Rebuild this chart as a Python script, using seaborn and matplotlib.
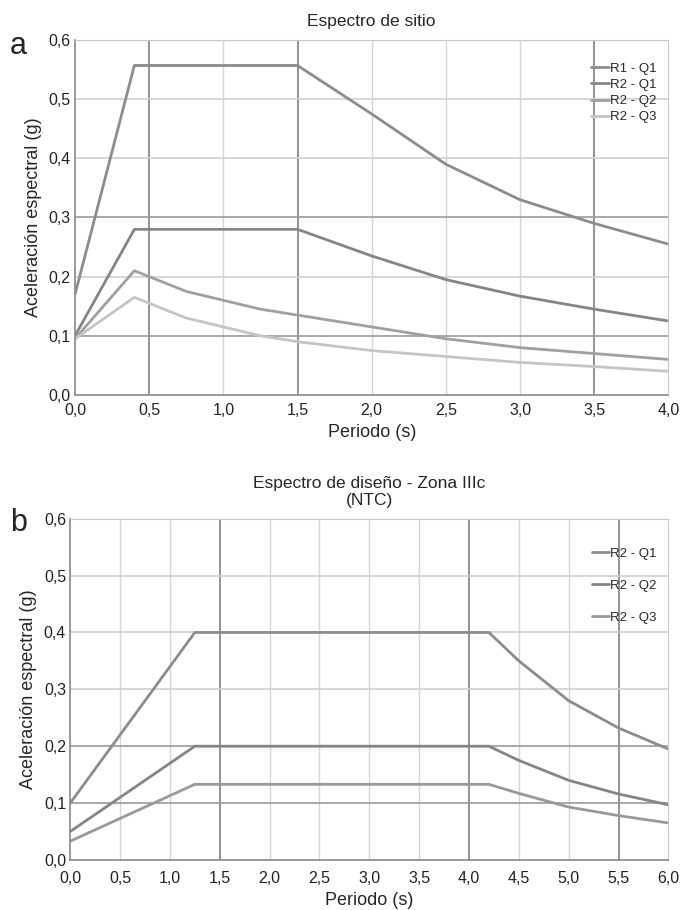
import numpy as np
import pandas as pd
import seaborn as sns
import matplotlib.pyplot as plt
from matplotlib.ticker import FuncFormatter

sns.set_style("white")
plt.rcParams['font.family'] = ['Liberation Sans', 'DejaVu Sans']

# Espectro de sitio (a)
t_a1 = [0.0, 0.4, 1.5, 2.0, 2.5, 3.0, 3.5, 4.0]
r1_q1 = [0.17, 0.557, 0.557, 0.475, 0.39, 0.33, 0.29, 0.255]
r2_q1 = [0.10, 0.28, 0.28, 0.235, 0.195, 0.167, 0.145, 0.125]
t_a2 = [0.0, 0.4, 0.75, 1.25, 1.5, 2.0, 2.5, 3.0, 3.5, 4.0]
r2_q2 = [0.095, 0.21, 0.175, 0.145, 0.135, 0.115, 0.095, 0.08, 0.07, 0.06]
r2_q3 = [0.095, 0.165, 0.13, 0.10, 0.09, 0.075, 0.065, 0.055, 0.048, 0.04]

# Espectro de diseño (b)
t_b = [0.0, 1.25, 4.2, 4.5, 5.0, 5.5, 6.0]
d_q1 = [0.10, 0.40, 0.40, 0.35, 0.28, 0.232, 0.195]
d_q2 = [0.05, 0.20, 0.20, 0.175, 0.14, 0.116, 0.097]
d_q3 = [0.033, 0.133, 0.133, 0.117, 0.093, 0.078, 0.065]

df_a = pd.concat([
    pd.DataFrame({'t': t_a1, 'sa': r1_q1, 'serie': 'R1 - Q1'}),
    pd.DataFrame({'t': t_a1, 'sa': r2_q1, 'serie': 'R2 - Q1'}),
    pd.DataFrame({'t': t_a2, 'sa': r2_q2, 'serie': 'R2 - Q2'}),
    pd.DataFrame({'t': t_a2, 'sa': r2_q3, 'serie': 'R2 - Q3'}),
])
df_b = pd.concat([
    pd.DataFrame({'t': t_b, 'sa': d_q1, 'serie': 'R2 - Q1'}),
    pd.DataFrame({'t': t_b, 'sa': d_q2, 'serie': 'R2 - Q2'}),
    pd.DataFrame({'t': t_b, 'sa': d_q3, 'serie': 'R2 - Q3'}),
])

pal_a = {'R1 - Q1': '#8c8c8c', 'R2 - Q1': '#858585', 'R2 - Q2': '#a0a0a0', 'R2 - Q3': '#c4c4c4'}
pal_b = {'R2 - Q1': '#8c8c8c', 'R2 - Q2': '#858585', 'R2 - Q3': '#999999'}

coma = FuncFormatter(lambda v, p: f'{v:.1f}'.replace('.', ','))

fig = plt.figure(figsize=(6.82, 9.1), dpi=100)
ax1 = fig.add_axes([0.110, 0.566, 0.870, 0.390])
ax2 = fig.add_axes([0.103, 0.055, 0.877, 0.375])


def estilo(ax, xmax, dark_x, dark_y, xpad):
    ax.set_xlim(0, xmax)
    ax.set_ylim(0, 0.6)
    ax.set_xticks(np.arange(0, xmax + 0.01, 0.5))
    ax.set_yticks(np.arange(0, 0.61, 0.1))
    ax.xaxis.set_major_formatter(coma)
    ax.yaxis.set_major_formatter(coma)
    for x in np.arange(0.5, xmax, 0.5):
        c = '#8a8a8a' if round(x, 1) in dark_x else '#d4d4d4'
        ax.axvline(x, color=c, lw=1.3 if round(x, 1) in dark_x else 1.0, zorder=0)
    for y in np.arange(0.1, 0.59, 0.1):
        c = '#9a9a9a' if round(y, 1) in dark_y else '#d0d0d0'
        ax.axhline(y, color=c, lw=1.2, zorder=0)
    for s in ['top', 'right']:
        ax.spines[s].set_color('#c8c8c8')
    for s in ['left', 'bottom']:
        ax.spines[s].set_color('#888888')
        ax.spines[s].set_linewidth(1.2)
    ax.tick_params(labelsize=11.5, length=0, colors='#222222')
    ax.tick_params(axis='x', pad=xpad)
    ax.tick_params(axis='y', pad=3)
    ax.set_xlabel('Periodo (s)', fontsize=13, labelpad=4)
    ax.set_ylabel('Aceleración espectral (g)', fontsize=13, labelpad=5)


sns.lineplot(data=df_a, x='t', y='sa', hue='serie', palette=pal_a, lw=2, ax=ax1)
estilo(ax1, 4.0, [0.5, 1.5, 3.5], [0.1, 0.3], 6)
ax1.set_title('Espectro de sitio', fontsize=12.5, pad=10)
ax1.legend(loc='upper right', frameon=False, fontsize=9.5, handlelength=1.3,
           handletextpad=0.1, labelspacing=0.3, bbox_to_anchor=(1.0, 0.97))

sns.lineplot(data=df_b, x='t', y='sa', hue='serie', palette=pal_b, lw=2, ax=ax2)
estilo(ax2, 6.0, [1.5, 4.0, 5.5], [0.1, 0.2], 8)
ax2.set_title('Espectro de diseño - Zona IIIc\n(NTC)', fontsize=12.5, pad=10, linespacing=1.15)
ax2.legend(loc='upper right', frameon=False, fontsize=9.5, handlelength=1.3,
           handletextpad=0.1, labelspacing=1.5, bbox_to_anchor=(1.0, 0.95))

fig.text(0.015, 0.950, 'a', fontsize=22, va='center')
fig.text(0.015, 0.425, 'b', fontsize=22, va='center')

fig.savefig('out.png', dpi=100)
